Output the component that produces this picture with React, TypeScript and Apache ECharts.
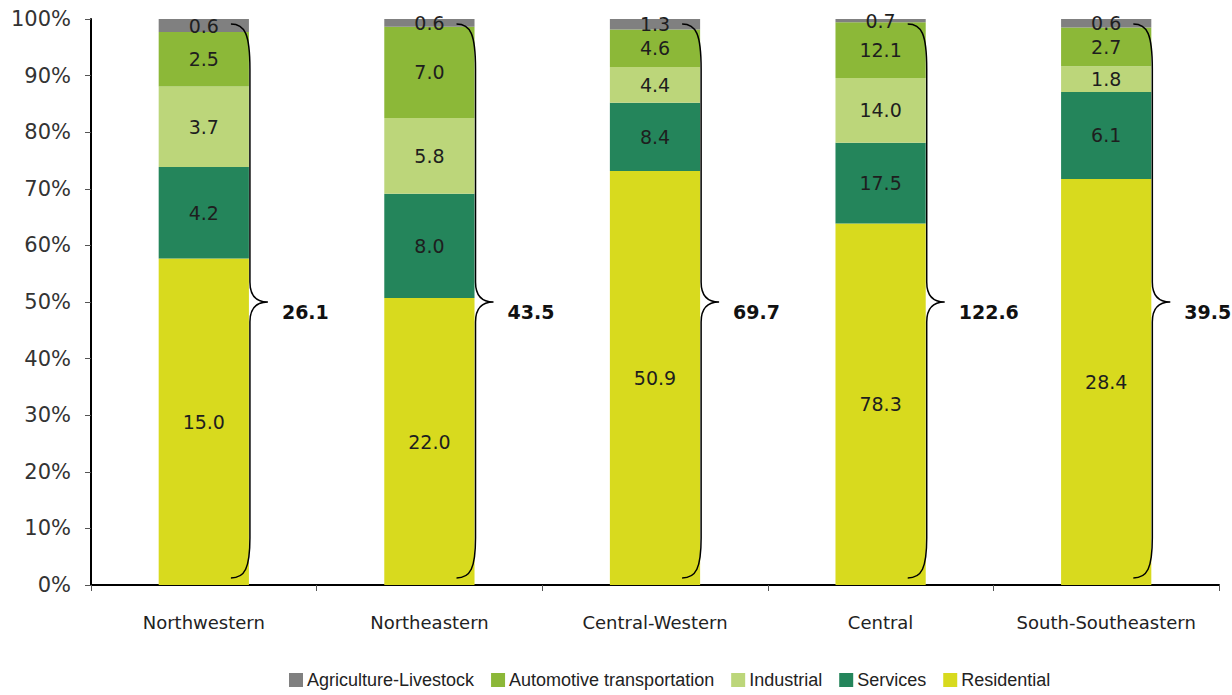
import React, { useEffect, useRef } from "react";
import * as echarts from "echarts";

const categories = ["Northwestern", "Northeastern", "Central-Western", "Central", "South-Southeastern"];
const residential = [15.0, 22.0, 50.9, 78.3, 28.4];
const services = [4.2, 8.0, 8.4, 17.5, 6.1];
const industrial = [3.7, 5.8, 4.4, 14.0, 1.8];
const automotive = [2.5, 7.0, 4.6, 12.1, 2.7];
const agriculture = [0.6, 0.6, 1.3, 0.7, 0.6];
const totals = [26.1, 43.5, 69.7, 122.6, 39.5];
const yTicks = [0, 10, 20, 30, 40, 50, 60, 70, 80, 90, 100];

const seriesDefs = [
  { name: "Residential", values: residential, color: "#D8DA1E" },
  { name: "Services", values: services, color: "#24855B" },
  { name: "Industrial", values: industrial, color: "#BCD67A" },
  { name: "Automotive transportation", values: automotive, color: "#8CB838" },
  { name: "Agriculture-Livestock", values: agriculture, color: "#808080" },
];

const sums = categories.map((_, i) => seriesDefs.reduce((s, d) => s + d.values[i], 0));

export default function App() {
  const ref = useRef<HTMLDivElement>(null);
  useEffect(() => {
    if (!ref.current) return;
    const chart = echarts.init(ref.current, null, { renderer: "svg" });
    const barSeries = seriesDefs.map((d) => ({
      name: d.name,
      type: "bar",
      stack: "total",
      barWidth: "40%",
      itemStyle: { color: d.color },
      label: {
        show: true,
        position: "inside",
        color: "#1e1e1e",
        fontFamily: "DejaVu Sans",
        fontSize: 19,
        formatter: (p: any) => d.values[p.dataIndex].toFixed(1),
      },
      data: d.values.map((v, i) => (v / sums[i]) * 100),
    }));
    const braceSeries = {
      type: "custom",
      name: "braces",
      silent: true,
      z: 10,
      encode: { x: 0, y: 1 },
      data: totals.map((t, i) => [i, 50, t]),
      renderItem: (params: any, api: any) => {
        const idx = api.value(0);
        const total = api.value(2);
        const bottom = api.coord([idx, 0]);
        const top = api.coord([idx, 100]);
        const bw = api.size([1, 0])[0] * 0.4;
        const xr = bottom[0] + bw / 2;
        const x0 = xr - 18;
        const x1 = xr + 1;
        const xt = xr + 19;
        const yTop = top[1] + 5;
        const yBot = bottom[1] - 7;
        const yMid = (top[1] + bottom[1]) / 2;
        const d =
          `M ${x0} ${yTop} C ${x0 + 14} ${yTop} ${x1} ${yTop + 10} ${x1} ${yTop + 45} ` +
          `L ${x1} ${yMid - 20} C ${x1} ${yMid - 5} ${x1 + 8} ${yMid} ${xt} ${yMid} ` +
          `C ${x1 + 8} ${yMid} ${x1} ${yMid + 5} ${x1} ${yMid + 20} ` +
          `L ${x1} ${yBot - 40} C ${x1} ${yBot - 10} ${x0 + 14} ${yBot} ${x0} ${yBot}`;
        return {
          type: "group",
          children: [
            {
              type: "path",
              shape: { pathData: d },
              style: { fill: "none", stroke: "#000", lineWidth: 1.5 },
            },
            {
              type: "text",
              x: xt + 14,
              y: yMid + 10,
              style: {
                text: total.toFixed(1),
                fill: "#111",
                font: "600 19px 'DejaVu Sans'",
                verticalAlign: "middle",
                align: "left",
              },
            },
          ],
        };
      },
    };
    chart.setOption({
      animation: false,
      backgroundColor: "#fff",
      grid: { left: 91, right: 13, top: 19, bottom: 110, containLabel: false },
      legend: {
        top: 666,
        left: 284,
        itemWidth: 14,
        itemHeight: 14,
        itemGap: 17,
        icon: "rect",
        data: ["Agriculture-Livestock", "Automotive transportation", "Industrial", "Services", "Residential"],
        textStyle: { fontFamily: "Liberation Sans", fontSize: 18, color: "#222", padding: [0, 0, 0, -1] },
      },
      xAxis: {
        type: "category",
        data: categories,
        axisLine: { lineStyle: { color: "#000", width: 2 } },
        axisTick: { show: true, length: 6, lineStyle: { color: "#555" } },
        axisLabel: { interval: 0, color: "#222", fontFamily: "DejaVu Sans", fontSize: 18, margin: 28 },
      },
      yAxis: {
        type: "value",
        min: 0,
        max: 100,
        interval: 10,
        axisLine: { show: true, lineStyle: { color: "#000", width: 2 } },
        axisTick: { show: true, length: 6, lineStyle: { color: "#555" } },
        splitLine: { show: false },
        axisLabel: {
          color: "#333",
          fontFamily: "DejaVu Sans",
          fontSize: 21,
          margin: 20,
          formatter: (v: number) => (yTicks.includes(v) ? `${v}%` : ""),
        },
      },
      series: [...barSeries, braceSeries],
    });
    return () => chart.dispose();
  }, []);
  return <div ref={ref} style={{ width: 1232, height: 695, position: "absolute", left: 0, top: 0 }} />;
}
